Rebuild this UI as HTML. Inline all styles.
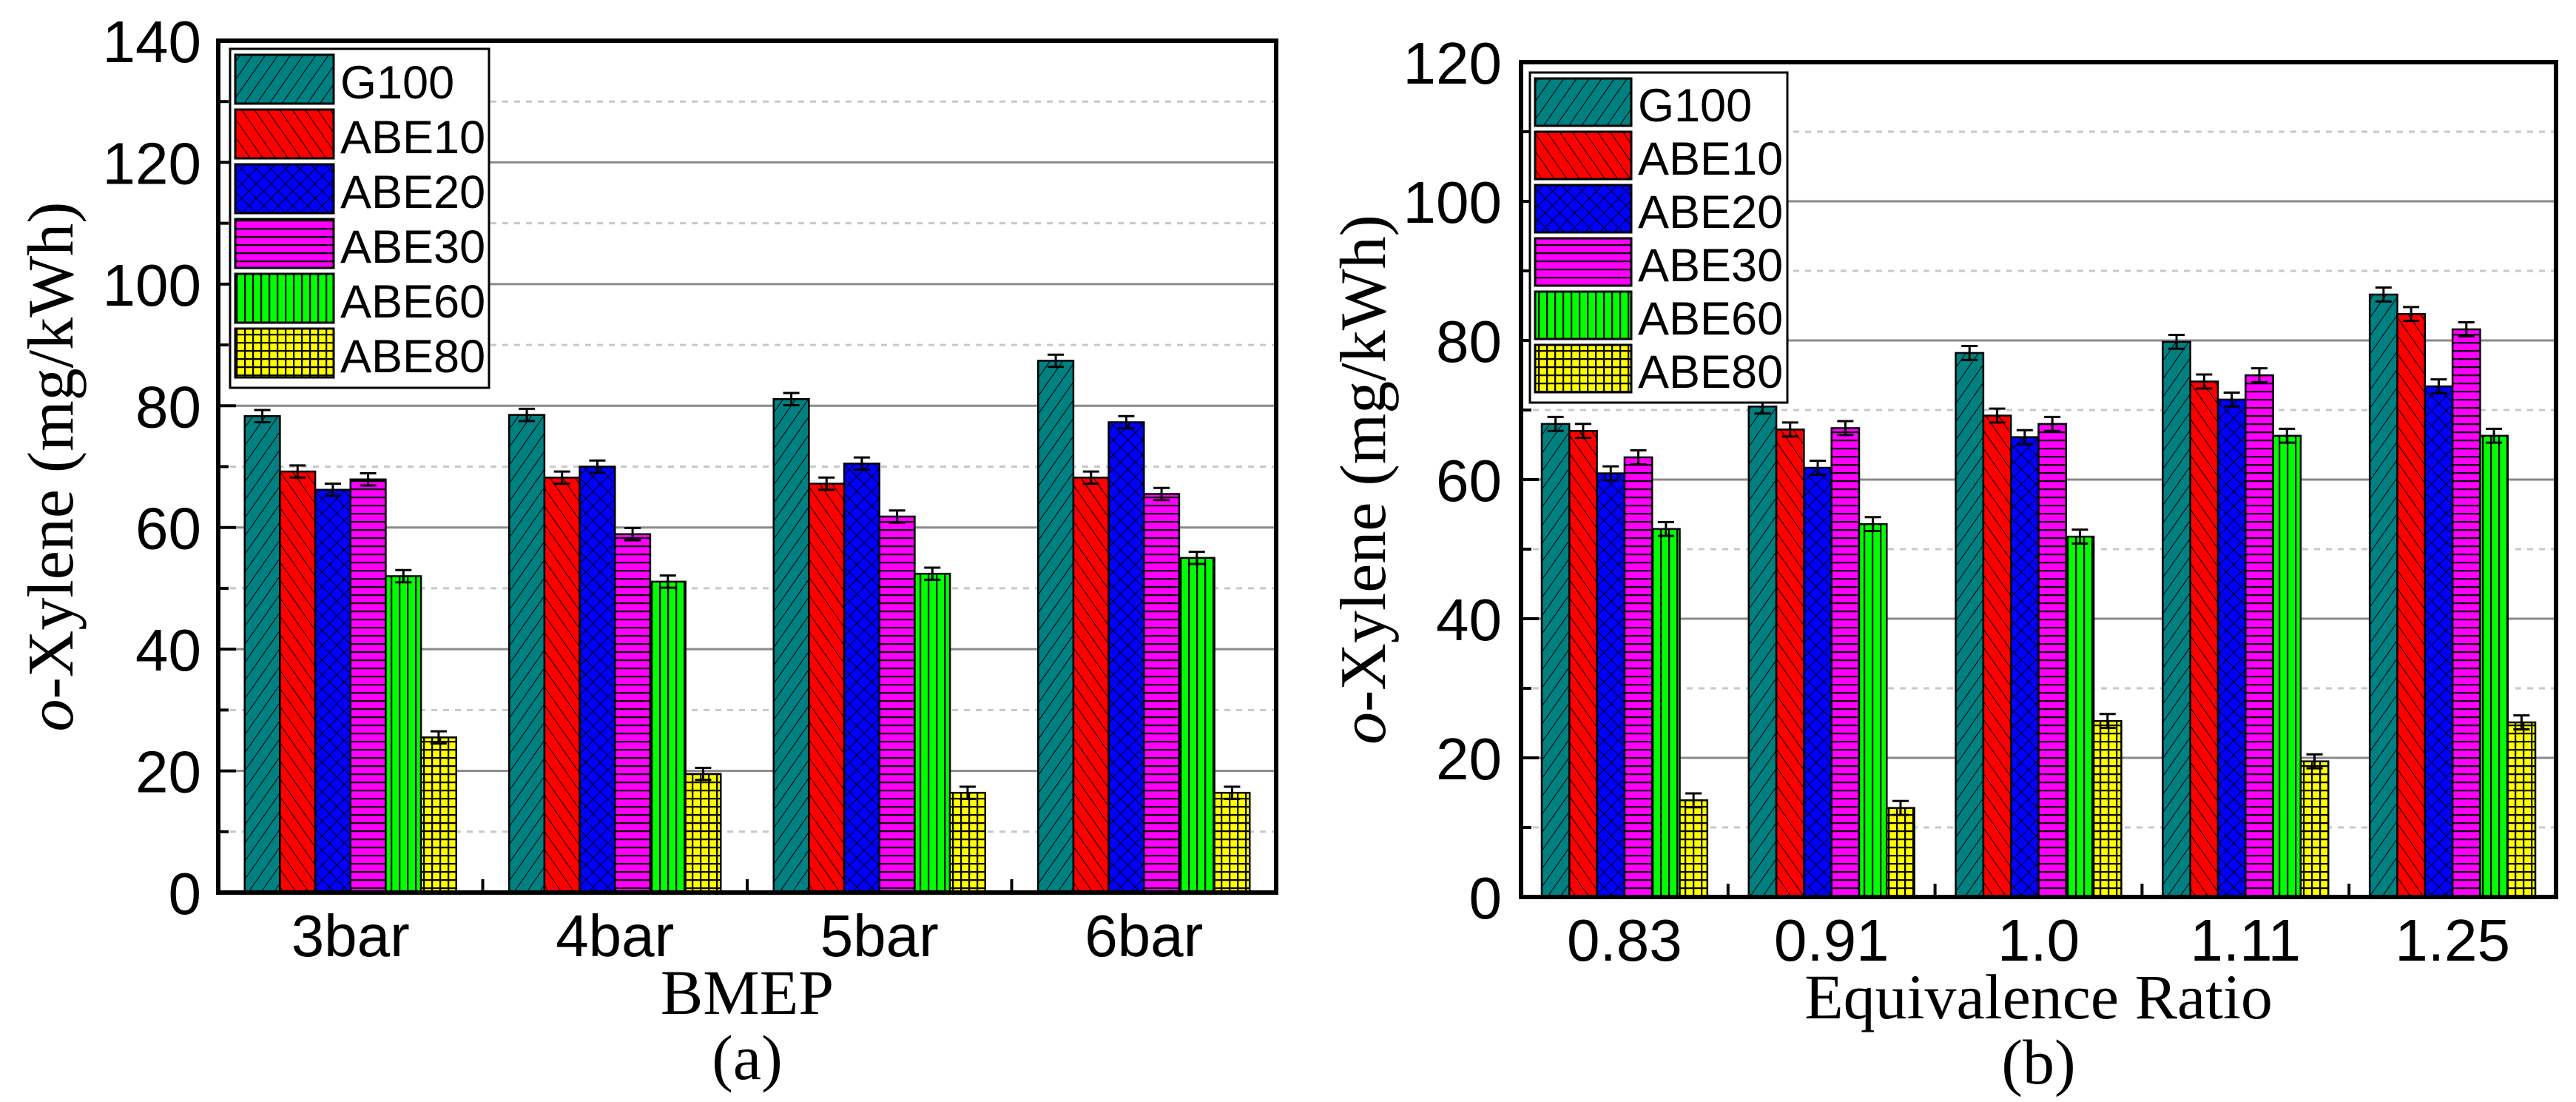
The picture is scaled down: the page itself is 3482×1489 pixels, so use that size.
<!DOCTYPE html>
<html><head><meta charset="utf-8"><style>
html,body{margin:0;padding:0;background:#fff;}
svg{display:block;}
</style></head><body>
<svg id="fig" xmlns="http://www.w3.org/2000/svg" width="3482" height="1489" viewBox="0 0 3482 1489">
<defs>
<pattern id="p0" patternUnits="userSpaceOnUse" width="14" height="14" patternTransform="rotate(35)"><rect width="14" height="14" fill="#008080"/><line x1="0" y1="0" x2="0" y2="14" stroke="#000" stroke-width="2"/></pattern>
<pattern id="p1" patternUnits="userSpaceOnUse" width="14" height="14" patternTransform="rotate(-35)"><rect width="14" height="14" fill="#ff0000"/><line x1="0" y1="0" x2="0" y2="14" stroke="#000" stroke-width="2"/></pattern>
<pattern id="p2" patternUnits="userSpaceOnUse" width="14" height="14" patternTransform="rotate(45)"><rect width="14" height="14" fill="#0000ff"/><line x1="0" y1="0" x2="0" y2="14" stroke="#000" stroke-width="2"/><line x1="0" y1="0" x2="14" y2="0" stroke="#000" stroke-width="2"/></pattern>
<pattern id="p3" patternUnits="userSpaceOnUse" width="11" height="11"><rect width="11" height="11" fill="#ff00ff"/><line x1="0" y1="1" x2="11" y2="1" stroke="#000" stroke-width="2.5"/></pattern>
<pattern id="p4" patternUnits="userSpaceOnUse" width="11" height="11"><rect width="11" height="11" fill="#00ff00"/><line x1="1" y1="0" x2="1" y2="11" stroke="#000" stroke-width="2.5"/></pattern>
<pattern id="p5" patternUnits="userSpaceOnUse" width="11" height="11"><rect width="11" height="11" fill="#ffff00"/><line x1="1" y1="0" x2="1" y2="11" stroke="#000" stroke-width="2.5"/><line x1="0" y1="1" x2="11" y2="1" stroke="#000" stroke-width="2.5"/></pattern>
</defs>
</svg>
<script>
const seriesNames = ['G100','ABE10','ABE20','ABE30','ABE60','ABE80'];
const catsA = ['3bar','4bar','5bar','6bar'];
const g100A = [78.3, 78.5, 81.1, 87.4];
const abe10A = [69.2, 68.2, 67.2, 68.2];
const abe20A = [66.2, 70.0, 70.5, 77.3];
const abe30A = [67.9, 58.9, 61.8, 65.5];
const abe60A = [52.0, 51.1, 52.4, 55.0];
const abe80A = [25.5, 19.5, 16.4, 16.4];
const errA = [1, 1, 1, 1];
const ticksA = [0,20,40,60,80,100,120,140];
const catsB = ['0.83','0.91','1.0','1.11','1.25'];
const g100B = [68.0, 70.5, 78.2, 79.8, 86.6];
const abe10B = [67.0, 67.2, 69.2, 74.1, 83.8];
const abe20B = [60.9, 61.7, 66.1, 71.5, 73.4];
const abe30B = [63.2, 67.4, 68.0, 75.0, 81.6];
const abe60B = [52.9, 53.6, 51.8, 66.3, 66.3];
const abe80B = [13.9, 12.8, 25.3, 19.5, 25.1];
const errB = [1, 1, 1, 1, 1];
const ticksB = [0,20,40,60,80,100,120];

const NS='http://www.w3.org/2000/svg';
const svg=document.getElementById('fig');
function el(tag,attrs,parent){const e=document.createElementNS(NS,tag);for(const k in attrs)e.setAttribute(k,attrs[k]);(parent||svg).appendChild(e);return e;}

function chart(cfg){
  const {L,R,T,B,ymax,cats,series,ticks,err,prefix,xtitle,sub,legend,ylabX,ytitleX}=cfg;
  const g=el('g',{});
  
  
  const y=v=>B-(v/ymax)*(B-T);
  const cw=(R-L)/cats.length;
  const x=i=>L+cw*(i+0.5);
  for(let v=10;v<ymax;v+=10){
    const major=v%20===0;
    const gl=el('line',{x1:L,x2:R,y1:y(v),y2:y(v),stroke:major?'#8a8a8a':'#c8c8c8','stroke-width':3,'stroke-dasharray':major?'none':'8 8'},g);
    
    
    const tk=el('line',{x1:L,x2:L+(major?24:14),y1:y(v),y2:y(v),stroke:'#000','stroke-width':4},g);
    
    
  }
  const bw=cw*0.8/series.length;
  series.forEach((s,si)=>{
    s.forEach((v,ci)=>{
      const bx=x(ci)-cw*0.4+si*bw;
      const r=el('rect',{x:bx,y:y(v),width:bw,height:B-y(v),fill:'url(#p'+si+')',stroke:'#000','stroke-width':2.5},g);
      
      
      const cx=bx+bw/2, e=err[ci];
      const eb=el('path',{d:`M${cx} ${y(v+e)}V${y(v-e)}M${cx-11} ${y(v+e)}H${cx+11}M${cx-11} ${y(v-e)}H${cx+11}`,stroke:'#000','stroke-width':3,fill:'none'},g);
      
      
    });
  });
  for(let i=1;i<cats.length;i++){
    const t=el('line',{x1:L+cw*i,x2:L+cw*i,y1:B,y2:B-18,stroke:'#000','stroke-width':4},g);
    
    
  }
  const fr=el('rect',{x:L,y:T,width:R-L,height:B-T,fill:'none',stroke:'#000','stroke-width':6},g);
  
  
  ticks.forEach(v=>{
    const t=el('text',{x:ylabX,y:y(v)+29,'text-anchor':'end','font-family':'Liberation Sans, sans-serif','font-size':80},g);
    t.textContent=v;
    
    
  });
  cats.forEach((c,i)=>{
    const t=el('text',{x:x(i),y:B+86,'text-anchor':'middle','font-family':'Liberation Sans, sans-serif','font-size':80},g);
    t.textContent=c;
    
    
  });
  const xt=el('text',{x:(L+R)/2,y:B+164,'text-anchor':'middle','font-family':'Liberation Serif, serif','font-size':86},g);
  xt.textContent=xtitle;
  
  
  const st=el('text',{x:(L+R)/2,y:B+252,'text-anchor':'middle','font-family':'Liberation Serif, serif','font-size':86},g);
  st.textContent=sub;
  
  
  const yt=el('text',{x:0,y:0,'text-anchor':'middle','font-family':'Liberation Serif, serif','font-size':88,transform:`translate(${ytitleX},${(T+B)/2}) rotate(-90)`},g);
  
  
  const it=el('tspan',{'font-style':'italic'},yt); it.textContent='o';
  const rt=el('tspan',{},yt); rt.textContent='-Xylene (mg/kWh)';
  const lg=el('g',{},g);
  
  
  const lb=el('rect',{x:legend.x,y:legend.y,width:legend.w,height:legend.rh*6+14,fill:'#fff',stroke:'#000','stroke-width':3},lg);
  
  
  seriesNames.forEach((n,i)=>{
    const ry=legend.y+8+i*legend.rh;
    const sw=el('rect',{x:legend.x+7,y:ry,width:legend.sw,height:legend.rh-8,fill:'url(#p'+i+')',stroke:'#000','stroke-width':3},lg);
    
    
    const t=el('text',{x:legend.x+legend.sw+16,y:ry+legend.rh/2+22,'font-family':'Liberation Sans, sans-serif','font-size':63},lg);
    t.textContent=n;
    
    
  });
}
chart({L:295,R:1725,T:55,B:1206,ymax:140,cats:catsA,series:[g100A,abe10A,abe20A,abe30A,abe60A,abe80A],ticks:ticksA,err:errA,prefix:'bmep',xtitle:'BMEP',sub:'(a)',legend:{x:311,y:66,w:350,rh:74,sw:133},ylabX:272,ytitleX:98});
chart({L:2056,R:3455,T:84,B:1212,ymax:120,cats:catsB,series:[g100B,abe10B,abe20B,abe30B,abe60B,abe80B],ticks:ticksB,err:errB,prefix:'equivalence',xtitle:'Equivalence Ratio',sub:'(b)',legend:{x:2068,y:98,w:348,rh:72,sw:130},ylabX:2030,ytitleX:1872});
</script>
</body></html>
